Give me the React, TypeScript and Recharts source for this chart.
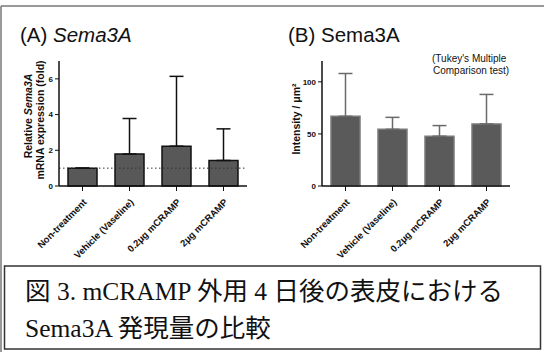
import React from "react";
import { BarChart, Bar, XAxis, YAxis, ErrorBar, ReferenceLine } from "recharts";

const categories = ["Non-treatment", "Vehicle (Vaseline)", "0.2μg mCRAMP", "2μg mCRAMP"];
const mrnaMean = [1.0, 1.79, 2.23, 1.43];
const mrnaUpperError = [0, 1.99, 3.91, 1.77];
const intensityMean = [66.9, 54.4, 47.8, 59.6];
const intensityUpperError = [41.1, 11.5, 10.2, 28.3];
const mrnaTicks = [0, 2, 4, 6];
const intensityTicks = [0, 50, 100];

const dataA = categories.map((c, i) => ({ name: c, value: mrnaMean[i], err: [0, mrnaUpperError[i]] }));
const dataB = categories.map((c, i) => ({ name: c, value: intensityMean[i], err: [0, intensityUpperError[i]] }));

const SANS = "'Liberation Sans', Arial, Helvetica, sans-serif";
const SERIF = "'Liberation Serif', 'Times New Roman', 'Noto Sans CJK JP', serif";

const XTick = (props: any) => {
  const { x, y, payload } = props;
  return (
    <g transform={`translate(${x + 2},${y + 7})`}>
      <text
        x={0}
        y={0}
        dy={4}
        textAnchor="end"
        transform="rotate(-45)"
        fontFamily={SANS}
        fontWeight="bold"
        fontSize={9.5}
        fill="#111"
      >
        {payload.value}
      </text>
    </g>
  );
};

const yTickStyle = { fontFamily: SANS, fontWeight: "bold" as const, fontSize: 8, fill: "#111" };

export default function App() {
  return (
    <div style={{ position: "absolute", left: 0, top: 0, width: 544, height: 352, background: "#fff", overflow: "hidden" }}>
      <div style={{ position: "absolute", left: 0, top: 0 }}>
        <BarChart width={272} height={265} data={dataA} margin={{ top: 61, right: 25, bottom: 19, left: 29 }} barSize={29}>
          <ReferenceLine y={1} stroke="#333" strokeDasharray="1.5 2.5" strokeWidth={1} />
          <XAxis
            dataKey="name"
            height={60}
            interval={0}
            tick={<XTick />}
            tickSize={5}
            axisLine={{ stroke: "#111", strokeWidth: 1.5 }}
            tickLine={{ stroke: "#111", strokeWidth: 1 }}
          />
          <YAxis
            width={30}
            domain={[0, 7]}
            ticks={mrnaTicks}
            tick={yTickStyle}
            tickSize={4}
            axisLine={{ stroke: "#111", strokeWidth: 1.5 }}
            tickLine={{ stroke: "#111", strokeWidth: 1 }}
          />
          <Bar dataKey="value" fill="#585858" stroke="#111" strokeWidth={1.5} isAnimationActive={false}>
            <ErrorBar dataKey="err" width={7} stroke="#111" strokeWidth={1.5} direction="y" />
          </Bar>
        </BarChart>
      </div>
      <div style={{ position: "absolute", left: 272, top: 0 }}>
        <BarChart width={272} height={265} data={dataB} margin={{ top: 61, right: 34, bottom: 19, left: 20 }} barSize={29}>
          <XAxis
            dataKey="name"
            height={60}
            interval={0}
            tick={<XTick />}
            tickSize={5}
            axisLine={{ stroke: "#111", strokeWidth: 1.5 }}
            tickLine={{ stroke: "#111", strokeWidth: 1 }}
          />
          <YAxis
            width={30}
            domain={[0, 120]}
            ticks={intensityTicks}
            tick={yTickStyle}
            tickSize={4}
            axisLine={{ stroke: "#111", strokeWidth: 1.5 }}
            tickLine={{ stroke: "#111", strokeWidth: 1 }}
          />
          <Bar dataKey="value" fill="#5a5a5a" stroke="#7a7a7a" strokeWidth={1.5} isAnimationActive={false}>
            <ErrorBar dataKey="err" width={7} stroke="#6a6a6a" strokeWidth={1.5} direction="y" />
          </Bar>
        </BarChart>
      </div>
      <svg width={544} height={352} style={{ position: "absolute", left: 0, top: 0 }}>
        <line x1={1} y1={6} x2={544} y2={6} stroke="#777" strokeWidth={1.5} />
        <line x1={1} y1={6} x2={1} y2={352} stroke="#777" strokeWidth={1.5} />

        <text x={20} y={42} fontFamily={SANS} fontSize={20.5} fill="#111">
          (A) <tspan fontStyle="italic">Sema3A</tspan>
        </text>
        <text x={288} y={42} fontFamily={SANS} fontSize={20.5} fill="#111">
          (B) Sema3A
        </text>

        <text transform="translate(32,116) rotate(-90)" textAnchor="middle" fontFamily={SANS} fontWeight="bold" fontSize={10.5} fill="#111">
          Relative <tspan fontStyle="italic">Sema3A</tspan>
        </text>
        <text transform="translate(44,120) rotate(-90)" textAnchor="middle" fontFamily={SANS} fontWeight="bold" fontSize={10.5} fill="#111">
          mRNA expression (fold)
        </text>
        <text transform="translate(300,119) rotate(-90)" textAnchor="middle" fontFamily={SANS} fontWeight="bold" fontSize={10.5} fill="#111">
          Intensity / μm²
        </text>

        <text x={432} y={62} fontFamily={SANS} fontSize={10} fill="#111">(Tukey's Multiple</text>
        <text x={433} y={74} fontFamily={SANS} fontSize={10} fill="#111">Comparison test)</text>

        <rect x={4.5} y={266} width={536} height={83} fill="#fff" stroke="#333" strokeWidth={1.5} />
        <text x={25} y={300} fontFamily={SERIF} fontSize={25.5} fill="#111">
          図 3. mCRAMP 外用 4 日後の表皮における
        </text>
        <text x={25} y={337} fontFamily={SERIF} fontSize={25.5} fill="#111">
          Sema3A 発現量の比較
        </text>
      </svg>
    </div>
  );
}
